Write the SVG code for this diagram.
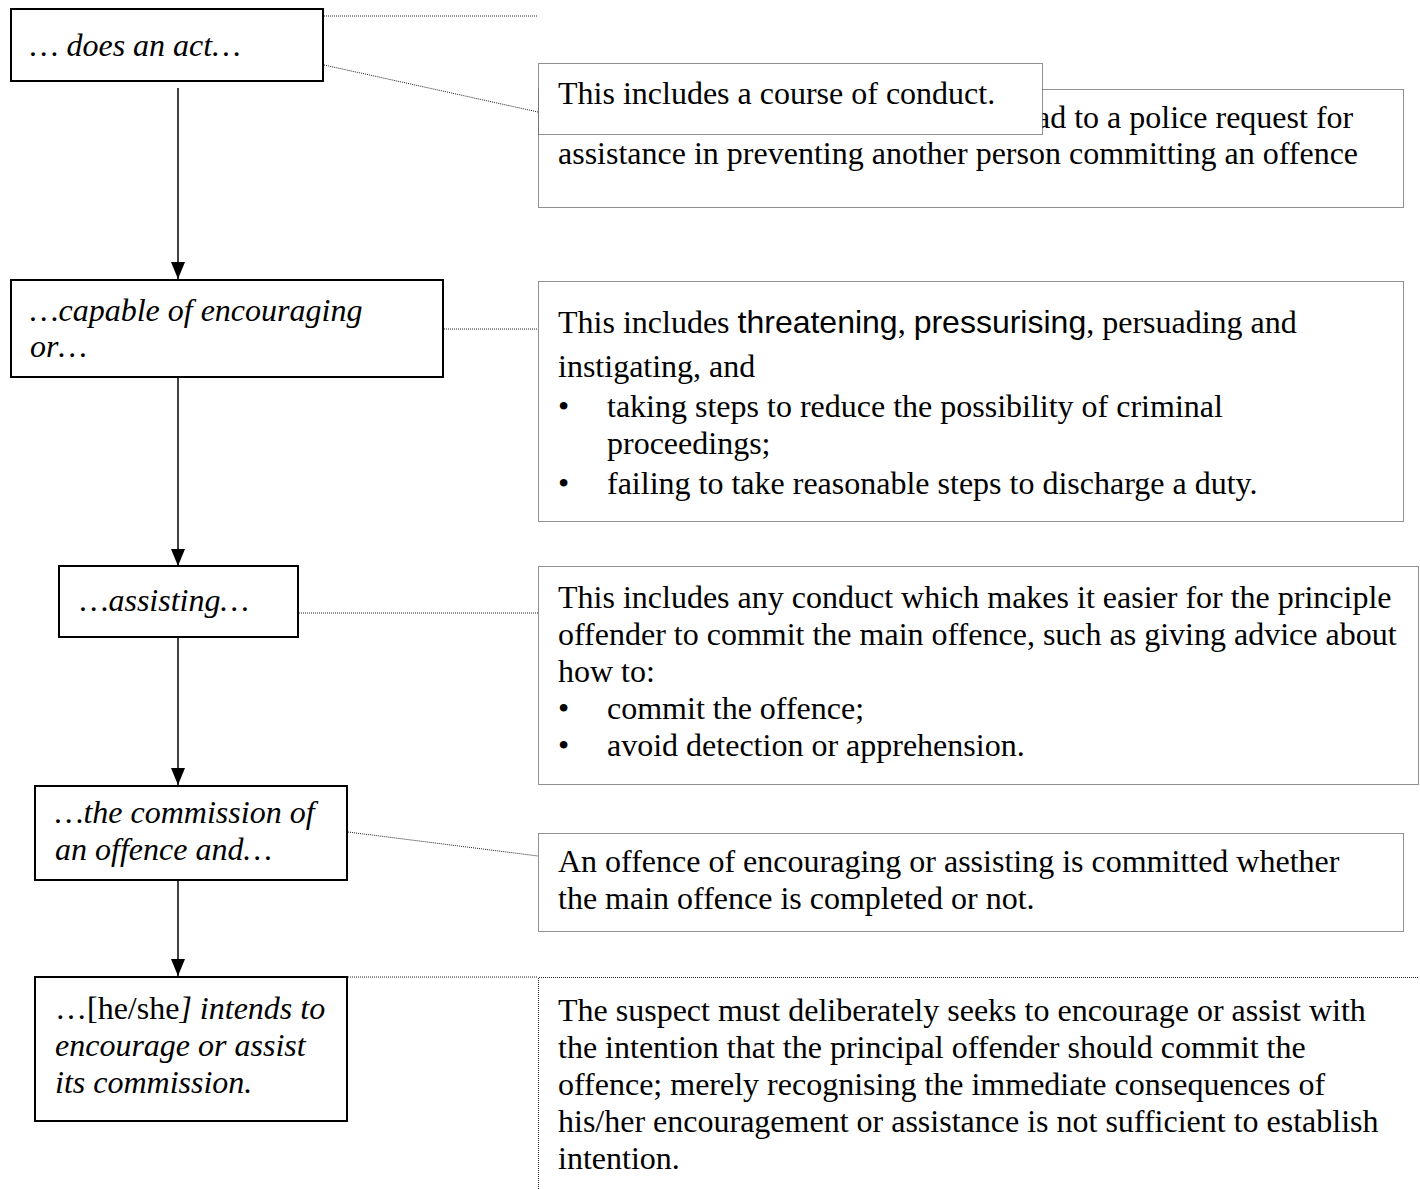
<svg xmlns="http://www.w3.org/2000/svg" width="1420" height="1189" viewBox="0 0 1420 1189">
<style>
.node{fill:#fff;stroke:#000;stroke-width:2}
.note{fill:#fff;stroke:#222;stroke-width:1;stroke-dasharray:1 1}
.dot{fill:none;stroke:#222;stroke-width:1;stroke-dasharray:1 1}
.arr{fill:none;stroke:#000;stroke-width:1.5}
.t{font-family:"Liberation Serif","Times New Roman",serif;font-size:32px;fill:#000}
.i{font-style:italic}
.a{font-family:"Liberation Sans",Arial,sans-serif}
</style>
<defs>
<marker id="ah" markerUnits="userSpaceOnUse" markerWidth="17" markerHeight="14" refX="17" refY="7" orient="auto" viewBox="0 0 17 14">
<path d="M0,0 L17,7 L0,14 Z" fill="#000"/>
</marker>
</defs>
<g id="connectors">
<line class="arr" x1="178" y1="88" x2="178" y2="279" marker-end="url(#ah)"/>
<line class="arr" x1="178" y1="378" x2="178" y2="566" marker-end="url(#ah)"/>
<line class="arr" x1="178" y1="638" x2="178" y2="785" marker-end="url(#ah)"/>
<line class="arr" x1="178" y1="881" x2="178" y2="976" marker-end="url(#ah)"/>
<line class="dot" x1="324" y1="16" x2="537" y2="16"/>
<line class="dot" x1="324" y1="65" x2="538" y2="112"/>
<line class="dot" x1="444" y1="329" x2="538" y2="329"/>
<line class="dot" x1="299" y1="613" x2="538" y2="613"/>
<line class="dot" x1="348" y1="832" x2="538" y2="856"/>
<line class="dot" x1="348" y1="977" x2="538" y2="977"/>
</g>
<g id="n1">
<rect class="node" x="11" y="9" width="312" height="72"/>
<text class="t i" x="30" y="56">… does an act…</text>
</g>
<g id="note1b">
<rect class="note" x="538.5" y="89.5" width="865" height="118"/>
<text class="t" x="1036" y="128">ad to a police request for</text>
<text class="t" x="558" y="164">assistance in preventing another person committing an offence</text>
</g>
<g id="note1a">
<rect class="note" x="538.5" y="63.5" width="504" height="71"/>
<text class="t" x="558" y="104">This includes a course of conduct.</text>
</g>
<g id="n2">
<rect class="node" x="11" y="280" width="432" height="97"/>
<text class="t i" x="30" y="321">…capable of encouraging</text>
<text class="t i" x="30" y="357">or…</text>
</g>
<g id="note2">
<rect class="note" x="538.5" y="281.5" width="865" height="240"/>
<text class="t" x="558" y="333">This includes <tspan class="a">threatening</tspan>, <tspan class="a">pressurising</tspan>, persuading and</text>
<text class="t" x="558" y="377">instigating, and</text>
<text class="t" x="558" y="417">•</text>
<text class="t" x="607" y="417">taking steps to reduce the possibility of criminal</text>
<text class="t" x="607" y="454">proceedings;</text>
<text class="t" x="558" y="494">•</text>
<text class="t" x="607" y="494">failing to take reasonable steps to discharge a duty.</text>
</g>
<g id="n3">
<rect class="node" x="59" y="566" width="239" height="71"/>
<text class="t i" x="80" y="611">…assisting…</text>
</g>
<g id="note3">
<rect class="note" x="538.5" y="566.5" width="880" height="218"/>
<text class="t" x="558" y="608">This includes any conduct which makes it easier for the principle</text>
<text class="t" x="558" y="645">offender to commit the main offence, such as giving advice about</text>
<text class="t" x="558" y="682">how to:</text>
<text class="t" x="558" y="719">•</text>
<text class="t" x="607" y="719">commit the offence;</text>
<text class="t" x="558" y="756">•</text>
<text class="t" x="607" y="756">avoid detection or apprehension.</text>
</g>
<g id="n4">
<rect class="node" x="35" y="786" width="312" height="94"/>
<text class="t i" x="55" y="823">…the commission of</text>
<text class="t i" x="55" y="860">an offence and…</text>
</g>
<g id="note4">
<rect class="note" x="538.5" y="833.5" width="865" height="98"/>
<text class="t" x="558" y="872">An offence of encouraging or assisting is committed whether</text>
<text class="t" x="558" y="909">the main offence is completed or not.</text>
</g>
<g id="n5">
<rect class="node" x="35" y="977" width="312" height="144"/>
<text class="t" x="55" y="1019">…[he/she<tspan class="i">] intends to</tspan></text>
<text class="t i" x="55" y="1056">encourage or assist</text>
<text class="t i" x="55" y="1093">its commission.</text>
</g>
<g id="note5">
<path class="dot" d="M538.5,1189 L538.5,977.5 L1418.5,977.5"/>
<text class="t" x="558" y="1021">The suspect must deliberately seeks to encourage or assist with</text>
<text class="t" x="558" y="1058">the intention that the principal offender should commit the</text>
<text class="t" x="558" y="1095">offence; merely recognising the immediate consequences of</text>
<text class="t" x="558" y="1132">his/her encouragement or assistance is not sufficient to establish</text>
<text class="t" x="558" y="1169">intention.</text>
</g>
</svg>
